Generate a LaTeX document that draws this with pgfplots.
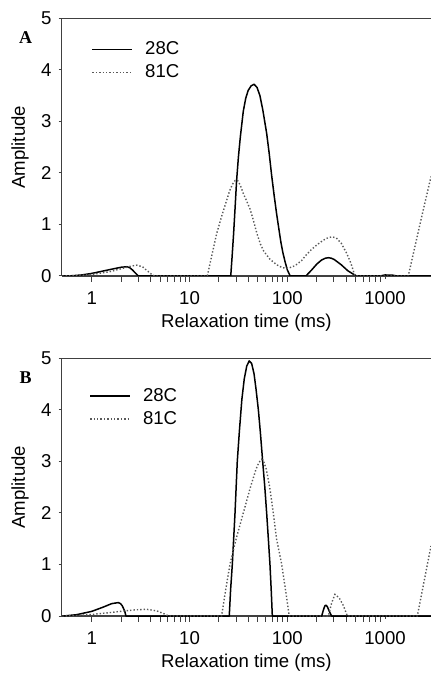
\documentclass[border=0pt]{standalone}
\usepackage{fontspec}
\setmainfont{Liberation Sans}
\newfontfamily\serifpanel{Liberation Serif}
\usepackage{pgfplots}
\pgfplotsset{compat=1.18}
\usetikzlibrary{calc}

\tikzset{
  s28/.style={black, line width=0.75pt, line join=round},
  s81/.style={black!65, line width=0.7pt, densely dotted},
}

\begin{document}
\begin{tikzpicture}
\useasboundingbox (0,0) rectangle (215.5pt,337.5pt);

% panel A
\begin{axis}[name=A, at={(30.85pt,199.5pt)}, anchor=south west,
    scale only axis, width=184.65pt, height=128.85pt,
    xmode=log, xmin=0.493, xmax=2950, ymin=0, ymax=5,
    axis lines*=left,
    axis line style={black!75, line width=0.6pt},
    tick align=outside, major tick length=1.6pt,
    tick style={black!75, line width=0.5pt},
    xtick={1,10,100,1000}, xticklabels={1,10,100,1000},
    minor xtick={},
    ytick={0,1,2,3,4,5},
    /pgf/number format/assume math mode=true,
    xticklabel style={yshift=-2.5pt},
    font=\fontsize{9.3}{11}\selectfont,
    xlabel={Relaxation time (ms)},
    ylabel={Amplitude},
    xlabel style={at={(axis description cs:0.5,-0.182)}, anchor=center},
    ylabel style={at={(axis description cs:-0.113,0.5)}, anchor=center},
    legend style={draw=none, fill=none, anchor=north west,
      font=\fontsize{9.3}{11}\selectfont, row sep=-0.5pt,
      at={(axis description cs:0.064,0.942)}},
    legend cell align=left,
    legend image code/.code={\draw[#1] (0pt,0pt) -- (20pt,0pt); \path (24pt,0pt);}]
\addplot[s28] coordinates {
  (0.5,0) (0.63,0.005) (0.79,0.02) (1.0,0.05) (1.26,0.09) (1.58,0.13)
  (2.0,0.17) (2.29,0.18) (2.45,0.16) (2.6,0.12) (2.82,0.05) (3.0,0)
  (26.4,0) (27.2,0.35) (28.2,0.8) (29.2,1.3) (30.3,1.85) (31.6,2.3)
  (33.1,2.7) (35.5,3.2) (37.6,3.45) (39.8,3.6) (42.7,3.69) (45.7,3.72)
  (49.0,3.66) (52.5,3.5) (56.2,3.22) (61.5,2.77) (65.3,2.38) (69.2,1.95)
  (73.3,1.57) (77.6,1.22) (82.2,0.9) (86.1,0.65) (90.2,0.45) (94.8,0.28)
  (100,0.12) (107,0)
  (155,0) (178,0.12) (200,0.23) (224,0.31) (245,0.345) (263,0.355)
  (282,0.345) (302,0.32) (355,0.22) (417,0.1) (479,0.03) (513,0)
  (891,0) (1000,0.02) (1202,0.015) (1318,0) (2950,0)
};
\addlegendentry{28C}
\addplot[s81] coordinates {
  (0.5,0) (0.7,0.005) (1.0,0.03) (1.5,0.08) (2.0,0.14) (2.5,0.19)
  (2.9,0.21) (3.3,0.18) (3.7,0.1) (4.1,0.03) (4.4,0)
  (15.2,0) (17.0,0.42) (19.0,0.83) (21.4,1.17) (24.0,1.47) (25.7,1.65)
  (27.5,1.78) (29.2,1.85) (30.9,1.86) (33.1,1.76) (35.5,1.6) (38.5,1.45)
  (41.6,1.3) (44.7,1.1) (49.0,0.82) (53.1,0.62) (57.5,0.48) (66.1,0.33)
  (77.6,0.22) (89.1,0.16) (102,0.15) (120,0.2) (140,0.3) (158,0.42)
  (178,0.52) (200,0.6) (224,0.67) (251,0.73) (284,0.76) (316,0.74)
  (355,0.64) (405,0.44) (447,0.25) (492,0)
  (1727,0) (2240,0.95) (2950,1.93)
};
\addlegendentry{81C}
\end{axis}
\draw[black!75, line width=0.6pt] (A.north west) -- (A.north east);
\node[font=\serifpanel\bfseries\fontsize{9}{10}\selectfont] at ($(A.south west)!0.927!(A.north west) + (-18pt,0)$) {A};

% panel B
\begin{axis}[name=B, at={(30.85pt,29.5pt)}, anchor=south west,
    scale only axis, width=184.65pt, height=128.85pt,
    xmode=log, xmin=0.493, xmax=2950, ymin=0, ymax=5,
    axis lines*=left,
    axis line style={black!75, line width=0.6pt},
    tick align=outside, major tick length=1.6pt,
    tick style={black!75, line width=0.5pt},
    xtick={1,10,100,1000}, xticklabels={1,10,100,1000},
    minor xtick={},
    ytick={0,1,2,3,4,5},
    /pgf/number format/assume math mode=true,
    xticklabel style={yshift=-2.5pt},
    font=\fontsize{9.3}{11}\selectfont,
    xlabel={Relaxation time (ms)},
    ylabel={Amplitude},
    xlabel style={at={(axis description cs:0.5,-0.182)}, anchor=center},
    ylabel style={at={(axis description cs:-0.113,0.5)}, anchor=center},
    legend style={draw=none, fill=none, anchor=north west,
      font=\fontsize{9.3}{11}\selectfont, row sep=-0.5pt,
      at={(axis description cs:0.058,0.917)}},
    legend cell align=left,
    legend image code/.code={\draw[#1] (0pt,0pt) -- (20pt,0pt); \path (24pt,0pt);}]
\addplot[s28] coordinates {
  (0.5,0) (0.55,0.005) (0.7,0.025) (1.0,0.09) (1.3,0.17) (1.6,0.24)
  (1.87,0.26) (1.97,0.24) (2.05,0.2) (2.17,0.1) (2.24,0)
  (25.5,0) (26.3,0.5) (27.4,1) (29.2,2) (30.8,3) (32.4,3.6) (34.3,4.2)
  (36.3,4.6) (38.5,4.85) (40.8,4.95) (43.2,4.9) (45.7,4.7) (47.9,4.4)
  (50.6,4) (53.1,3.55) (56.0,3) (58.9,2.5) (61.5,2) (64.0,1.5)
  (66.5,1) (68.5,0.5) (70.3,0)
  (225,0) (231,0.08) (237,0.15) (243,0.2) (249,0.21) (257,0.18)
  (265,0.12) (275,0.05) (284,0) (2950,0)
};
\addlegendentry{28C}
\addplot[s81] coordinates {
  (0.5,0) (0.7,0.01) (1.0,0.03) (1.6,0.07) (2.2,0.1) (2.8,0.12)
  (3.65,0.13) (4.6,0.1) (5.4,0.05) (6.1,0)
  (21.3,0) (23.4,0.5) (25.9,1) (30.0,1.5) (35.5,2) (42,2.5) (47.9,2.85)
  (51.3,2.98) (54.7,3.04) (57.8,2.98) (61,2.85) (66.1,2.5) (71.9,2)
  (77.6,1.5) (87.7,1) (96,0.5) (104.7,0)
  (263,0) (284,0.25) (307,0.42) (340,0.35) (375,0.2) (411,0)
  (2137,0) (2950,1.36)
};
\addlegendentry{81C}
\end{axis}
\draw[black!75, line width=0.6pt] (B.north west) -- (B.north east);
\node[font=\serifpanel\bfseries\fontsize{9}{10}\selectfont] at ($(B.south west)!0.925!(B.north west) + (-18pt,0)$) {B};
\end{tikzpicture}
\end{document}
